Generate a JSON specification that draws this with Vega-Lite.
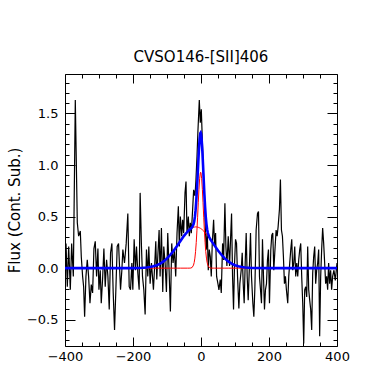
{
  "$schema": "https://vega.github.io/schema/vega-lite/v6.json",
  "width": 272,
  "height": 272,
  "autosize": "none",
  "padding": {"left": 65, "top": 74, "right": 40, "bottom": 23},
  "background": "white",
  "config": {
    "view": {"stroke": "black", "strokeWidth": 1},
    "font": "DejaVu Sans",
    "axis": {"grid": false, "domain": false, "tickColor": "black", "tickWidth": 1, "labelColor": "black", "labelFont": "DejaVu Sans", "labelFontSize": 13, "titleFont": "DejaVu Sans", "titleColor": "black", "titleFontWeight": "normal", "labelOverlap": false, "labelFlush": false}
  },
  "title": {"text": "CVSO146-[SII]406", "fontSize": 15, "fontWeight": "normal", "font": "DejaVu Sans", "color": "black", "anchor": "middle", "frame": "group", "baseline": "alphabetic", "offset": -3},
  "datasets": {
    "spec": [
      {"v": -400, "f": -0.21}, {"v": -397, "f": 0.24}, {"v": -393.2, "f": -0.18}, {"v": -389.2, "f": 0.21}, {"v": -384.4, "f": -0.21}, {"v": -380.4, "f": 0.24}, {"v": -375.5, "f": -0.08}, {"v": -369.7, "f": 1.63}, {"v": -363.8, "f": 0.44}, {"v": -359.9, "f": 0.31}, {"v": -355, "f": 0.36}, {"v": -352.1, "f": 0.11}, {"v": -348.2, "f": -0.08}, {"v": -345.2, "f": -0.18}, {"v": -342.3, "f": -0.47}, {"v": -338.4, "f": -0.08}, {"v": -334.5, "f": 0.08}, {"v": -330.6, "f": -0.08}, {"v": -326.6, "f": -0.34}, {"v": -322.7, "f": -0.16}, {"v": -318.8, "f": -0.24}, {"v": -314.9, "f": 0.19}, {"v": -311, "f": 0.26}, {"v": -307.1, "f": -0.08}, {"v": -303.2, "f": 0.19}, {"v": -300.2, "f": -0.21}, {"v": -296.3, "f": -0.02}, {"v": -293.4, "f": -0.34}, {"v": -289.5, "f": -0.11}, {"v": -285.6, "f": 0.19}, {"v": -281.7, "f": -0.18}, {"v": -277.7, "f": 0.08}, {"v": -273.8, "f": -0.08}, {"v": -269.9, "f": -0.4}, {"v": -266, "f": 0.15}, {"v": -262.1, "f": 0.24}, {"v": -258.2, "f": -0.24}, {"v": -254.3, "f": -0.6}, {"v": -250.4, "f": -0.21}, {"v": -246.5, "f": 0.21}, {"v": -242.5, "f": 0.24}, {"v": -236.7, "f": -0.21}, {"v": -232.8, "f": -0.02}, {"v": -229.8, "f": 0.18}, {"v": -225, "f": 0.05}, {"v": -220, "f": 0.24}, {"v": -215.2, "f": 0.53}, {"v": -211.2, "f": -0.18}, {"v": -207.3, "f": -0.21}, {"v": -203.4, "f": 0.05}, {"v": -200.5, "f": -0.21}, {"v": -196.6, "f": 0.28}, {"v": -192.7, "f": -0.02}, {"v": -189.7, "f": 0.21}, {"v": -185.8, "f": -0.05}, {"v": -181.9, "f": -0.21}, {"v": -179, "f": 0.73}, {"v": -175.1, "f": 0.21}, {"v": -172.1, "f": -0.08}, {"v": -168.2, "f": -0.21}, {"v": -164.3, "f": -0.45}, {"v": -160.4, "f": 0.18}, {"v": -156.5, "f": -0.08}, {"v": -153.5, "f": 0.21}, {"v": -149.6, "f": -0.15}, {"v": -145.7, "f": 0.05}, {"v": -142.8, "f": -0.08}, {"v": -139.9, "f": -0.21}, {"v": -135.9, "f": 0.05}, {"v": -133, "f": 0.26}, {"v": -130.1, "f": -0.11}, {"v": -127.1, "f": 0.11}, {"v": -123.2, "f": 0.37}, {"v": -120.3, "f": -0.08}, {"v": -116.4, "f": 0.39}, {"v": -112.5, "f": -0.23}, {"v": -109.5, "f": 0.21}, {"v": -105.6, "f": 0.05}, {"v": -101.7, "f": -0.23}, {"v": -97.8, "f": 0.34}, {"v": -93.9, "f": -0.02}, {"v": -90, "f": -0.42}, {"v": -86.1, "f": 0.24}, {"v": -82.2, "f": 0.05}, {"v": -78.2, "f": 0.18}, {"v": -74.4, "f": -0.08}, {"v": -70.5, "f": 0.34}, {"v": -66.6, "f": 0.6}, {"v": -63.7, "f": 0.21}, {"v": -60.7, "f": 0.5}, {"v": -56.8, "f": 0.31}, {"v": -53.9, "f": 0.47}, {"v": -51, "f": 0.34}, {"v": -47, "f": 0.73}, {"v": -44.1, "f": 0.84}, {"v": -41.2, "f": 0.34}, {"v": -37.3, "f": 0.5}, {"v": -34.3, "f": 0.31}, {"v": -31.4, "f": 0.44}, {"v": -28.5, "f": 0.34}, {"v": -24.6, "f": 0.57}, {"v": -21.6, "f": 0.76}, {"v": -17.7, "f": 0.7}, {"v": -14.8, "f": 0.86}, {"v": -11.8, "f": 1.08}, {"v": -8.9, "f": 1.34}, {"v": -5, "f": 1.63}, {"v": -2.1, "f": 1.41}, {"v": 0.9, "f": 1.54}, {"v": 3.8, "f": 1.25}, {"v": 6.7, "f": 0.95}, {"v": 9.7, "f": 0.76}, {"v": 12.6, "f": 0.4}, {"v": 15.5, "f": 0.18}, {"v": 18.5, "f": 0.34}, {"v": 21.4, "f": -0.02}, {"v": 24.3, "f": 0.18}, {"v": 27.3, "f": 0.11}, {"v": 30.2, "f": -0.08}, {"v": 33.1, "f": 0.24}, {"v": 37.1, "f": 0.47}, {"v": 40, "f": 0.21}, {"v": 42.9, "f": 0.34}, {"v": 45.9, "f": -0.08}, {"v": 49.8, "f": -0.15}, {"v": 52.7, "f": -0.21}, {"v": 56.6, "f": -0.11}, {"v": 59.6, "f": -0.24}, {"v": 63.5, "f": 0.24}, {"v": 66.4, "f": 0.08}, {"v": 70.3, "f": 0.63}, {"v": 73.2, "f": 0.21}, {"v": 76.2, "f": 0.02}, {"v": 80.1, "f": 0.31}, {"v": 84, "f": 0.02}, {"v": 86.9, "f": 0.28}, {"v": 89.9, "f": 0.53}, {"v": 92.8, "f": -0.08}, {"v": 95.7, "f": -0.4}, {"v": 98.7, "f": 0.05}, {"v": 101.6, "f": 0.28}, {"v": 104.5, "f": 0.24}, {"v": 107.5, "f": -0.08}, {"v": 111.4, "f": -0.39}, {"v": 114.3, "f": -0.15}, {"v": 118.2, "f": -0.02}, {"v": 121.2, "f": 0.15}, {"v": 124.1, "f": -0.15}, {"v": 127, "f": -0.34}, {"v": 130, "f": 0.05}, {"v": 132.9, "f": 0.34}, {"v": 135.8, "f": -0.08}, {"v": 138.8, "f": -0.31}, {"v": 142.7, "f": 0.05}, {"v": 145.6, "f": 0.34}, {"v": 148.5, "f": -0.08}, {"v": 152.5, "f": -0.34}, {"v": 155.4, "f": -0.47}, {"v": 158.3, "f": -0.21}, {"v": 162.2, "f": 0.37}, {"v": 166.2, "f": 0.53}, {"v": 169.1, "f": 0.55}, {"v": 172, "f": -0.08}, {"v": 175, "f": -0.21}, {"v": 177.9, "f": -0.34}, {"v": 180.8, "f": 0.28}, {"v": 183.8, "f": -0.08}, {"v": 186.7, "f": -0.4}, {"v": 189.6, "f": -0.21}, {"v": 192.6, "f": -0.15}, {"v": 195.5, "f": 0.08}, {"v": 198.4, "f": 0.18}, {"v": 201.4, "f": -0.34}, {"v": 205.3, "f": 0.18}, {"v": 208.2, "f": 0.32}, {"v": 211.1, "f": 0.34}, {"v": 214.1, "f": -0.02}, {"v": 217, "f": 0.15}, {"v": 220.9, "f": 0.37}, {"v": 223.9, "f": 0.31}, {"v": 226.8, "f": 0.4}, {"v": 230.7, "f": 0.57}, {"v": 233.6, "f": 0.86}, {"v": 236.6, "f": 0.37}, {"v": 239.5, "f": 0.31}, {"v": 242.4, "f": 0.11}, {"v": 245.4, "f": -0.15}, {"v": 248.3, "f": -0.08}, {"v": 251.2, "f": -0.21}, {"v": 255.1, "f": -0.34}, {"v": 258.1, "f": -0.08}, {"v": 261, "f": 0.05}, {"v": 264, "f": 0.18}, {"v": 266.9, "f": 0.28}, {"v": 269.8, "f": -0.02}, {"v": 272.8, "f": 0.05}, {"v": 275.7, "f": 0.21}, {"v": 278.6, "f": -0.08}, {"v": 281.6, "f": 0.05}, {"v": 284.5, "f": -0.08}, {"v": 287.4, "f": 0.08}, {"v": 290.4, "f": 0.18}, {"v": 293.3, "f": 0.24}, {"v": 296.2, "f": -0.08}, {"v": 299.2, "f": -0.34}, {"v": 302.1, "f": -0.73}, {"v": 305, "f": -0.21}, {"v": 308, "f": -0.18}, {"v": 310.9, "f": -0.28}, {"v": 313.8, "f": 0.21}, {"v": 316.8, "f": -0.21}, {"v": 319.7, "f": -0.31}, {"v": 322.6, "f": -0.4}, {"v": 325.6, "f": -0.6}, {"v": 328.5, "f": -0.05}, {"v": 331.4, "f": 0.11}, {"v": 334.4, "f": 0.21}, {"v": 337.3, "f": -0.15}, {"v": 340.2, "f": -0.02}, {"v": 343.2, "f": 0.05}, {"v": 346.1, "f": 0.18}, {"v": 349, "f": -0.66}, {"v": 352, "f": -0.08}, {"v": 354.9, "f": 0.18}, {"v": 357.8, "f": 0.39}, {"v": 360.8, "f": 0.24}, {"v": 363.7, "f": 0.05}, {"v": 366.6, "f": -0.15}, {"v": 369.6, "f": -0.08}, {"v": 372.5, "f": -0.21}, {"v": 375.4, "f": 0.05}, {"v": 378.4, "f": -0.15}, {"v": 381.3, "f": -0.02}, {"v": 384.2, "f": -0.21}, {"v": 387.2, "f": -0.08}, {"v": 391.1, "f": -0.02}, {"v": 395, "f": -0.12}, {"v": 400, "f": 0.05}
    ],
    "model": [
      {"v": -400, "narrow": 0, "broad": 0, "total": 0}, {"v": -250, "narrow": 0, "broad": 0, "total": 0}, {"v": -200, "narrow": 0, "broad": 0.0004, "total": 0.0004}, {"v": -180, "narrow": 0, "broad": 0.0017, "total": 0.0017}, {"v": -170, "narrow": 0, "broad": 0.0033, "total": 0.0033}, {"v": -160, "narrow": 0, "broad": 0.006, "total": 0.006}, {"v": -150, "narrow": 0, "broad": 0.0105, "total": 0.0105}, {"v": -140, "narrow": 0, "broad": 0.0176, "total": 0.0176}, {"v": -130, "narrow": 0, "broad": 0.0284, "total": 0.0284}, {"v": -120, "narrow": 0, "broad": 0.0441, "total": 0.0441}, {"v": -110, "narrow": 0, "broad": 0.0658, "total": 0.0658}, {"v": -100, "narrow": 0, "broad": 0.0943, "total": 0.0943}, {"v": -90, "narrow": 0, "broad": 0.1299, "total": 0.1299}, {"v": -80, "narrow": 0, "broad": 0.1718, "total": 0.1718}, {"v": -70, "narrow": 0, "broad": 0.2184, "total": 0.2184}, {"v": -60, "narrow": 0, "broad": 0.2668, "total": 0.2668}, {"v": -50, "narrow": 0, "broad": 0.3131, "total": 0.3131}, {"v": -40, "narrow": 0, "broad": 0.353, "total": 0.353}, {"v": -35, "narrow": 0.0001, "broad": 0.3692, "total": 0.3693}, {"v": -30, "narrow": 0.0013, "broad": 0.3824, "total": 0.3837}, {"v": -26, "narrow": 0.007, "broad": 0.3904, "total": 0.3974}, {"v": -22, "narrow": 0.0297, "broad": 0.3961, "total": 0.4258}, {"v": -20, "narrow": 0.0554, "broad": 0.398, "total": 0.4534}, {"v": -18, "narrow": 0.0973, "broad": 0.3993, "total": 0.4966}, {"v": -16, "narrow": 0.1603, "broad": 0.3999, "total": 0.5602}, {"v": -14, "narrow": 0.2484, "broad": 0.3999, "total": 0.6483}, {"v": -12, "narrow": 0.3614, "broad": 0.3993, "total": 0.7607}, {"v": -10, "narrow": 0.4939, "broad": 0.398, "total": 0.8919}, {"v": -8, "narrow": 0.6342, "broad": 0.3961, "total": 1.0303}, {"v": -6, "narrow": 0.765, "broad": 0.3936, "total": 1.1586}, {"v": -4, "narrow": 0.8668, "broad": 0.3904, "total": 1.2572}, {"v": -2, "narrow": 0.9227, "broad": 0.3867, "total": 1.3094}, {"v": -1, "narrow": 0.93, "broad": 0.3846, "total": 1.3146}, {"v": 0, "narrow": 0.9227, "broad": 0.3824, "total": 1.3051}, {"v": 2, "narrow": 0.8668, "broad": 0.3775, "total": 1.2443}, {"v": 4, "narrow": 0.765, "broad": 0.3721, "total": 1.1371}, {"v": 6, "narrow": 0.6342, "broad": 0.3662, "total": 1.0004}, {"v": 8, "narrow": 0.4939, "broad": 0.3598, "total": 0.8537}, {"v": 10, "narrow": 0.3614, "broad": 0.353, "total": 0.7144}, {"v": 12, "narrow": 0.2484, "broad": 0.3457, "total": 0.5941}, {"v": 14, "narrow": 0.1603, "broad": 0.3381, "total": 0.4984}, {"v": 16, "narrow": 0.0973, "broad": 0.33, "total": 0.4273}, {"v": 18, "narrow": 0.0554, "broad": 0.3217, "total": 0.3771}, {"v": 20, "narrow": 0.0297, "broad": 0.3131, "total": 0.3428}, {"v": 24, "narrow": 0.007, "broad": 0.2951, "total": 0.3021}, {"v": 28, "narrow": 0.0013, "broad": 0.2764, "total": 0.2777}, {"v": 32, "narrow": 0.0002, "broad": 0.2572, "total": 0.2574}, {"v": 36, "narrow": 0, "broad": 0.2378, "total": 0.2378}, {"v": 40, "narrow": 0, "broad": 0.2184, "total": 0.2184}, {"v": 50, "narrow": 0, "broad": 0.1718, "total": 0.1718}, {"v": 60, "narrow": 0, "broad": 0.1299, "total": 0.1299}, {"v": 70, "narrow": 0, "broad": 0.0943, "total": 0.0943}, {"v": 80, "narrow": 0, "broad": 0.0658, "total": 0.0658}, {"v": 90, "narrow": 0, "broad": 0.0441, "total": 0.0441}, {"v": 100, "narrow": 0, "broad": 0.0284, "total": 0.0284}, {"v": 110, "narrow": 0, "broad": 0.0176, "total": 0.0176}, {"v": 120, "narrow": 0, "broad": 0.0105, "total": 0.0105}, {"v": 130, "narrow": 0, "broad": 0.006, "total": 0.006}, {"v": 150, "narrow": 0, "broad": 0.0017, "total": 0.0017}, {"v": 200, "narrow": 0, "broad": 0, "total": 0}, {"v": 250, "narrow": 0, "broad": 0, "total": 0}, {"v": 400, "narrow": 0, "broad": 0, "total": 0}
    ]
  },
  "layer": [
    {
      "data": {"name": "spec"},
      "mark": {"type": "line", "color": "black", "strokeWidth": 1.2, "clip": true},
      "encoding": {
        "x": {"field": "v", "type": "quantitative", "scale": {"domain": [-400, 400], "nice": false, "zero": false},
          "axis": {"orient": "bottom", "title": null, "values": [-400, -350, -300, -250, -200, -150, -100, -50, 0, 50, 100, 150, 200, 250, 300, 350, 400],
            "labelExpr": "datum.value % 200 === 0 ? format(datum.value, 'd') : ''",
            "tickSize": {"condition": {"test": "datum.value % 200 === 0", "value": -9}, "value": -4},
            "labelPadding": 13}},
        "y": {"field": "f", "type": "quantitative", "scale": {"domain": [-0.755, 1.883], "nice": false, "zero": false},
          "axis": {"orient": "left", "title": "Flux (Cont. Sub.)", "titleFontSize": 15, "titleX": -51, "titleY": 136, "titleAlign": "center", "titleBaseline": "middle", "titleAngle": -90,
            "values": [-0.7, -0.6, -0.5, -0.4, -0.3, -0.2, -0.1, 0, 0.1, 0.2, 0.3, 0.4, 0.5, 0.6, 0.7, 0.8, 0.9, 1, 1.1, 1.2, 1.3, 1.4, 1.5, 1.6, 1.7, 1.8],
            "labelExpr": "abs(datum.value * 2 - round(datum.value * 2)) < 0.001 ? format(datum.value, '.1f') : ''",
            "tickSize": {"condition": {"test": "abs(datum.value * 2 - round(datum.value * 2)) < 0.001", "value": -10}, "value": -4},
            "labelPadding": 17}}
      }
    },
    {
      "data": {"name": "model"},
      "mark": {"type": "line", "color": "#ff0000", "strokeWidth": 1, "clip": true},
      "encoding": {
        "x": {"field": "v", "type": "quantitative",
          "axis": {"orient": "top", "title": null, "labels": false, "values": [-400, -350, -300, -250, -200, -150, -100, -50, 0, 50, 100, 150, 200, 250, 300, 350, 400],
            "tickSize": {"condition": {"test": "datum.value % 200 === 0", "value": -9}, "value": -4}}},
        "y": {"field": "narrow", "type": "quantitative",
          "axis": {"orient": "right", "title": null, "labels": false,
            "values": [-0.7, -0.6, -0.5, -0.4, -0.3, -0.2, -0.1, 0, 0.1, 0.2, 0.3, 0.4, 0.5, 0.6, 0.7, 0.8, 0.9, 1, 1.1, 1.2, 1.3, 1.4, 1.5, 1.6, 1.7, 1.8],
            "tickSize": {"condition": {"test": "abs(datum.value * 2 - round(datum.value * 2)) < 0.001", "value": -10}, "value": -4}}}
      }
    },
    {
      "data": {"name": "model"},
      "mark": {"type": "line", "color": "#ff0000", "strokeWidth": 1, "clip": true},
      "encoding": {
        "x": {"field": "v", "type": "quantitative", "axis": null},
        "y": {"field": "broad", "type": "quantitative", "axis": null}
      }
    },
    {
      "data": {"name": "model"},
      "mark": {"type": "line", "color": "#0000ff", "strokeWidth": 2.6, "clip": true},
      "encoding": {
        "x": {"field": "v", "type": "quantitative", "axis": null},
        "y": {"field": "total", "type": "quantitative", "axis": null}
      }
    }
  ],
  "resolve": {"axis": {"x": "independent", "y": "independent"}}
}
